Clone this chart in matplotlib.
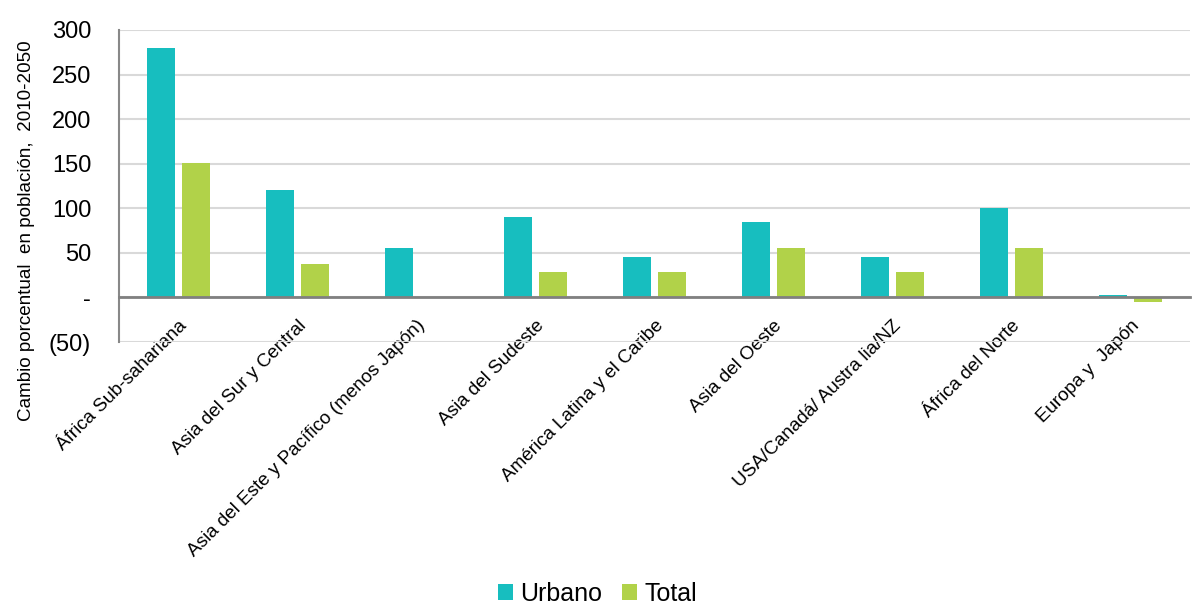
import numpy as np
import matplotlib
matplotlib.use("Agg")
import matplotlib.pyplot as plt
from matplotlib.ticker import FuncFormatter

plt.rcParams['font.family'] = ['Liberation Sans', 'DejaVu Sans']

regiones = ["África Sub-sahariana", "Asia del Sur y Central",
            "Asia del Este y Pacífico (menos Japón)", "Asia del Sudeste",
            "América Latina y el Caribe", "Asia del Oeste",
            "USA/Canadá/ Austra lia/NZ", "África del Norte", "Europa y  Japón"]
urbano = [280, 120, 55, 90, 45, 85, 45, 100, 3]
total = [151, 38, 0, 29, 29, 55, 29, 55, -5]

c_urb = "#17bebf"
c_tot = "#b1d249"

fig = plt.figure(figsize=(11.95, 6.1), dpi=100)
ax = fig.add_axes([119/1195, 1-342/610, (1190-119)/1195, (342-30)/610])

x = np.arange(len(regiones))
w = 0.235
off = 0.15
ax.bar(x - off, urbano, w, color=c_urb, label="Urbano", zorder=3)
ax.bar(x + off, total, w, color=c_tot, label="Total", zorder=3)

ax.set_xlim(-0.5, len(regiones) - 0.5)
ax.set_ylim(-50, 300)
ax.set_yticks(range(-50, 301, 50))

def fmt(v, pos):
    if v == 0:
        return "-"
    if v < 0:
        return "(%d)" % abs(v)
    return "%d" % v

ax.yaxis.set_major_formatter(FuncFormatter(fmt))
ax.grid(axis='y', color='#d9d9d9', linewidth=1.5, zorder=0)
ax.tick_params(axis='y', length=0, labelsize=17, pad=20)

for s in ['top', 'right']:
    ax.spines[s].set_visible(False)
ax.spines['left'].set_color('#888888')
ax.spines['left'].set_linewidth(1.5)
ax.spines['bottom'].set_position(('data', 0))
ax.spines['bottom'].set_color('#808080')
ax.spines['bottom'].set_linewidth(2)
ax.spines['bottom'].set_zorder(4)

ax.set_xticks(x)
ax.set_xticklabels(regiones, rotation=45, ha='right', va='top',
                   rotation_mode='anchor', fontsize=13.6)
ax.tick_params(axis='x', length=0, pad=14)

fig.text(0.022, 1-231/610, "Cambio porcentual  en población,  2010-2050",
         rotation=90, ha='center', va='center', fontsize=13.6)

fig.legend(loc='lower center', bbox_to_anchor=(0.5, -0.03), ncol=2,
           frameon=False, fontsize=18, handlelength=0.6, handleheight=0.6,
           handletextpad=0.3, columnspacing=0.8)

fig.savefig("out.png", dpi=100)
